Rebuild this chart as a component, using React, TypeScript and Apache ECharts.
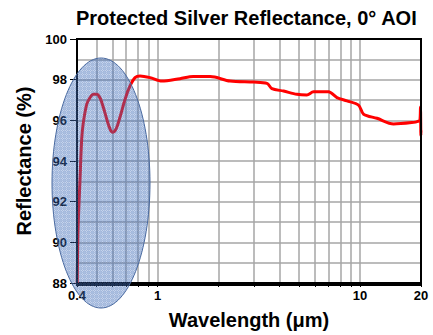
import React, { useEffect, useRef } from "react";
import * as echarts from "echarts";

const wavelengths = [
  0.401, 0.405, 0.414, 0.422, 0.43, 0.447, 0.464, 0.482, 0.5, 0.52, 0.54, 0.561,
  0.582, 0.6, 0.624, 0.652, 0.691, 0.731, 0.774, 0.819, 0.918, 1.05, 1.29, 1.5,
  1.82, 2.28, 2.98, 3.47, 3.67, 4.19, 4.88, 5.46, 5.89, 6.99, 7.69, 8.62, 9.83,
  10.41, 12.12, 14.64, 18.39, 19.3, 19.75, 19.88, 19.97, 20,
];
const reflectance = [
  88.0, 90.7, 93.1, 95.1, 95.9, 96.8, 97.12, 97.28, 97.28, 97.1, 96.63, 96.06,
  95.58, 95.41, 95.58, 96.15, 97.04, 97.69, 98.1, 98.18, 98.1, 97.93, 98.05, 98.15,
  98.15, 97.93, 97.88, 97.82, 97.56, 97.44, 97.28, 97.25, 97.4, 97.4, 97.12, 96.96, 96.75,
  96.3, 96.1, 95.82, 95.9, 95.95, 96.0, 96.65, 95.25, 95.5,
];
const xTickValues = [0.4, 0.5, 0.6, 0.7, 0.8, 0.9, 1, 2, 3, 4, 5, 6, 7, 8, 9, 10, 20];
const xLabelValues = [0.4, 1, 10, 20];

function makePattern(): string {
  const c = document.createElement("canvas");
  c.width = 4;
  c.height = 4;
  const ctx = c.getContext("2d");
  if (!ctx) return "";
  for (let y = 0; y < 4; y++) {
    for (let x = 0; x < 4; x++) {
      let a = (x + y) % 2 === 0 ? 0.5 : 0.3;
      if (x === 0 || y === 0) a = 0.45;
      ctx.fillStyle = `rgba(66,110,185,${a})`;
      ctx.fillRect(x, y, 1, 1);
    }
  }
  return c.toDataURL();
}

export default function App() {
  const ref = useRef<HTMLDivElement>(null);
  useEffect(() => {
    if (!ref.current) return;
    const chart = echarts.init(ref.current, null, { renderer: "svg" });
    const font = "Arial, 'Liberation Sans', sans-serif";
    const pat = makePattern();
    chart.setOption({
      animation: false,
      title: {
        text: "Protected Silver Reflectance, 0° AOI",
        left: 71,
        top: 3,
        textStyle: { fontFamily: font, fontSize: 20, fontWeight: "bold", color: "#000" },
      },
      grid: { left: 77, right: 12, top: 39, bottom: 50 },
      xAxis: {
        type: "log",
        logBase: 10,
        min: 0.4,
        max: 20,
        name: "Wavelength (μm)",
        nameLocation: "middle",
        nameGap: 27,
        nameTextStyle: { fontFamily: font, fontSize: 20, fontWeight: "bold", color: "#000" },
        axisLine: { onZero: false, lineStyle: { color: "#000", width: 2 } },
        axisTick: { show: true, length: 4, customValues: xTickValues, lineStyle: { color: "#000" } },
        axisLabel: {
          customValues: xLabelValues,
          fontFamily: font,
          fontSize: 13,
          fontWeight: "bold",
          color: "#000",
          margin: 6,
          formatter: (v: number) => String(Math.round(v * 10) / 10),
        },
        splitLine: { show: true, lineStyle: { color: "#a6a6a6", width: 1.5 } },
      },
      yAxis: {
        type: "value",
        min: 88,
        max: 100,
        interval: 2,
        name: "Reflectance (%)",
        nameLocation: "middle",
        nameGap: 34,
        nameTextStyle: { fontFamily: font, fontSize: 20, fontWeight: "bold", color: "#000" },
        axisLine: { show: true, lineStyle: { color: "#000", width: 2 } },
        axisTick: { show: true, length: 7, lineStyle: { color: "#000" } },
        axisLabel: { fontFamily: font, fontSize: 13, fontWeight: "bold", color: "#000", margin: 10 },
        splitLine: { show: true, lineStyle: { color: "#a6a6a6", width: 1.5 } },
        minorTick: { show: false, splitNumber: 2 },
        minorSplitLine: { show: true, lineStyle: { color: "#a6a6a6", width: 1.5 } },
      },
      graphic: [
        {
          type: "rect",
          shape: { x: 77, y: 39, width: 344, height: 246 },
          style: { fill: "none", stroke: "#000", lineWidth: 2 },
          z: 50,
          silent: true,
        },
        {
          type: "ellipse",
          shape: { cx: 101, cy: 183, rx: 49, ry: 125 },
          style: {
            fill: pat
              ? { image: pat, repeat: "repeat", imageWidth: 4, imageHeight: 4 }
              : "rgba(63,106,176,0.4)",
            stroke: "#4a6aa0",
            lineWidth: 1,
          },
          z: 100,
          silent: true,
        },
      ],
      series: [
        {
          type: "line",
          data: wavelengths.map((w, i) => [w, reflectance[i]]),
          showSymbol: false,
          smooth: 0.3,
          lineStyle: { color: "#ff0000", width: 3 },
          z: 10,
        },
      ],
    });
    return () => chart.dispose();
  }, []);
  return <div ref={ref} style={{ width: 433, height: 335, position: "absolute", left: 0, top: 0 }} />;
}
